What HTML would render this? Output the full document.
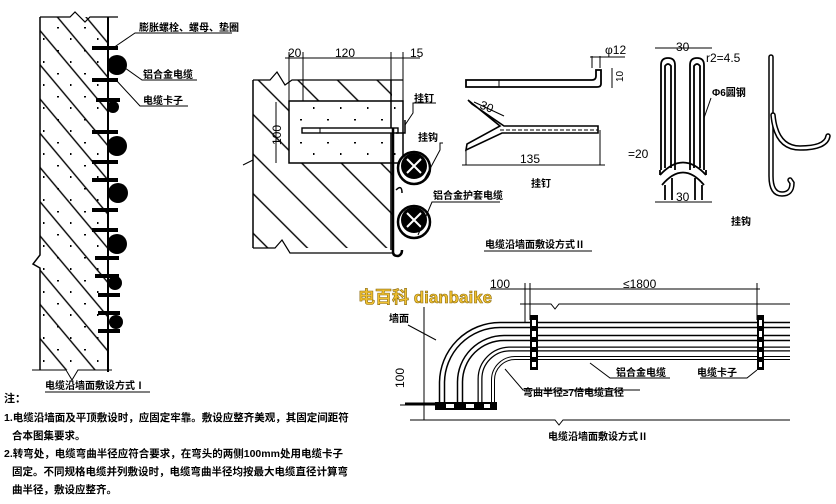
<!DOCTYPE html>
<html><head><meta charset="utf-8"><style>
html,body{margin:0;padding:0;background:#fff;}
svg{display:block;}
text{font-family:"Liberation Sans","Noto Sans CJK SC",sans-serif;fill:#000;}
.cn{font-weight:bold;font-size:10px;}
.d{font-size:12px;}
</style></head><body>
<svg width="836" height="504" viewBox="0 0 836 504" xmlns="http://www.w3.org/2000/svg">
<defs>
<pattern id="h" patternUnits="userSpaceOnUse" width="22" height="22" patternTransform="rotate(-40)">
<line x1="11" y1="0" x2="11" y2="22" stroke="#000" stroke-width="1.4"/>
</pattern>
<pattern id="h2" patternUnits="userSpaceOnUse" width="28" height="28" patternTransform="rotate(-45)">
<line x1="14" y1="0" x2="14" y2="28" stroke="#000" stroke-width="1.4"/>
</pattern>
<pattern id="dots" patternUnits="userSpaceOnUse" width="27" height="23">
<rect x="3" y="4" width="2" height="1.5" fill="#000"/><rect x="16" y="15" width="1.5" height="2" fill="#000"/>
</pattern>
</defs>
<rect width="836" height="504" fill="#fff"/>

<rect x="40" y="17" width="68" height="353" fill="url(#h)"/>
<rect x="40" y="17" width="68" height="353" fill="url(#dots)"/>
<path d="M40,17 V255 L33,264 L40,268 V370" fill="none" stroke="#000" stroke-width="1.5"/>
<line x1="108" y1="17" x2="108" y2="372" stroke="#000" stroke-width="2"/>
<path d="M40,17 H70 L75,12 L85,22 L90,17 H118" fill="none" stroke="#000" stroke-width="1.2"/>
<path d="M32,370 H66 L72,380 L78,370 H112" fill="none" stroke="#000" stroke-width="1"/>
<g fill="#000">
<rect x="92" y="46" width="26" height="4"/><rect x="92" y="78" width="26" height="4"/>
<rect x="96" y="98" width="24" height="4"/><rect x="92" y="130" width="26" height="4"/>
<rect x="92" y="160" width="26" height="4"/><rect x="92" y="178" width="26" height="4"/>
<rect x="92" y="208" width="26" height="4"/><rect x="92" y="228" width="26" height="4"/>
<rect x="95" y="256" width="24" height="4"/><rect x="95" y="274" width="24" height="4"/>
<rect x="98" y="293" width="22" height="4"/><rect x="98" y="311" width="22" height="4"/>
<rect x="98" y="329" width="22" height="4"/>
</g>
<g fill="#000">
<circle cx="117" cy="65" r="10"/><circle cx="113" cy="107" r="6"/><circle cx="117" cy="146" r="10"/>
<circle cx="118" cy="193" r="10"/><circle cx="117" cy="244" r="10"/><circle cx="115" cy="283" r="7"/>
<circle cx="116" cy="322" r="7"/>
</g>
<path d="M113,48 L135,33 H232" fill="none" stroke="#000"/>
<path d="M125,68 L142,80 H197" fill="none" stroke="#000"/>
<path d="M116,80 L140,106 H188" fill="none" stroke="#000"/>
<text class="cn" x="139" y="31">膨胀螺栓、螺母、垫圈</text>
<text class="cn" x="143" y="78">铝合金电缆</text>
<text class="cn" x="143" y="104">电缆卡子</text>
<text class="cn" x="45" y="389">电缆沿墙面敷设方式Ⅰ</text>
<line x1="45" y1="392" x2="150" y2="392" stroke="#000"/>

<text class="cn" x="4" y="402" style="font-size:11px">注：</text>
<text class="cn" x="4" y="421" style="font-size:10.5px">1.电缆沿墙面及平顶敷设时，应固定牢靠。敷设应整齐美观，其固定间距符</text>
<text class="cn" x="12" y="439" style="font-size:10.5px">合本图集要求。</text>
<text class="cn" x="4" y="457" style="font-size:10.5px">2.转弯处，电缆弯曲半径应符合要求，在弯头的两侧100mm处用电缆卡子</text>
<text class="cn" x="12" y="475" style="font-size:10.5px">固定。不同规格电缆并列敷设时，电缆弯曲半径均按最大电缆直径计算弯</text>
<text class="cn" x="12" y="493" style="font-size:10.5px">曲半径，敷设应整齐。</text>

<rect x="253" y="80" width="139" height="22" fill="url(#h2)"/>
<rect x="253" y="163" width="139" height="85" fill="url(#h2)"/>
<rect x="253" y="102" width="36" height="61" fill="url(#h2)"/>
<rect x="289" y="101" width="114" height="62" fill="#fff" stroke="#000" stroke-width="1.5"/>
<rect x="289" y="101" width="114" height="62" fill="url(#dots)"/>
<path d="M253,80 V248" stroke="#000" stroke-width="1.5"/>
<path d="M253,80 H270 L277,72 L285,85 L292,80 H403" fill="none" stroke="#000" stroke-width="1.2"/>
<path d="M243,165 L253,160" stroke="#000"/>
<path d="M253,248 H275 L282,240 L290,253 H392" fill="none" stroke="#000" stroke-width="1.2"/>
<line x1="391" y1="80" x2="391" y2="250" stroke="#000" stroke-width="1.5"/>
<line x1="285" y1="58" x2="420" y2="58" stroke="#000"/>
<line x1="289" y1="52" x2="289" y2="101" stroke="#000"/>
<line x1="303" y1="52" x2="303" y2="101" stroke="#000"/>
<line x1="391" y1="52" x2="391" y2="80" stroke="#000"/>
<line x1="403" y1="52" x2="403" y2="101" stroke="#000"/>
<text class="d" x="288" y="57">20</text><text class="d" x="335" y="57">120</text><text class="d" x="410" y="57">15</text>
<line x1="276" y1="102" x2="276" y2="163" stroke="#000"/>
<text class="d" x="0" y="0" transform="translate(281,145) rotate(-90)">100</text>
<rect x="302" y="128" width="96" height="5" fill="#fff" stroke="#000" stroke-width="1.4"/>
<line x1="320" y1="128" x2="320" y2="133" stroke="#000"/>
<path d="M396,133 H405 V120" fill="none" stroke="#000" stroke-width="1.5"/>
<path d="M393,128 V252 Q393,256 398,256 Q402,255 402,250" fill="none" stroke="#000" stroke-width="2.5"/>
<path d="M396,190 Q402,184 402,193" fill="none" stroke="#000" stroke-width="1.5"/>
<g stroke="#000" fill="#fff">
<circle cx="414" cy="168" r="16" stroke-width="2.5"/><circle cx="414" cy="222" r="16" stroke-width="2.5"/>
</g>
<g fill="#000">
<circle cx="414" cy="166" r="13"/><circle cx="414" cy="220" r="13"/>
</g>
<g stroke="#fff" stroke-width="2">
<path d="M407,159 L421,173 M421,159 L407,173"/><path d="M407,213 L421,227 M421,213 L407,227"/>
</g>
<path d="M405,125 L413,113 V103 H436" fill="none" stroke="#000"/>
<path d="M424,180 L440,150 V143 H443" fill="none" stroke="#000"/>
<path d="M418,235 L432,202 H500" fill="none" stroke="#000"/>
<text class="cn" x="414" y="102">挂钉</text>
<text class="cn" x="418" y="141">挂钩</text>
<text class="cn" x="433" y="199">铝合金护套电缆</text>
<text class="cn" x="485" y="248">电缆沿墙面敷设方式Ⅱ</text>
<line x1="484" y1="251" x2="592" y2="251" stroke="#000"/>

<path d="M466,80 H592 Q596,80 596,76 V70 H601 V84 Q601,87 597,87 H466 Z" fill="#fff" stroke="#000" stroke-width="1.8"/>
<line x1="499" y1="80" x2="499" y2="87" stroke="#000"/>
<line x1="592" y1="56" x2="592" y2="68" stroke="#000"/><line x1="600" y1="56" x2="600" y2="68" stroke="#000"/>
<line x1="590" y1="57" x2="625" y2="57" stroke="#000"/>
<text class="d" x="605" y="54">φ12</text>
<line x1="612" y1="68" x2="612" y2="88" stroke="#000"/>
<text class="d" x="0" y="0" transform="translate(623,82) rotate(-90)" style="font-size:10px">10</text>
<path d="M468,100 L500,126 L467,144 L466,150 L502,133 H598 V126 H504 L472,104 Z" fill="#fff" stroke="#000" stroke-width="1.6"/>
<line x1="500" y1="130" x2="598" y2="130" stroke="#000" stroke-dasharray="4 2"/>
<path d="M466,150 V165 M600,130 V165" stroke="#000"/>
<line x1="462" y1="165" x2="605" y2="165" stroke="#000"/>
<line x1="474" y1="102" x2="504" y2="116" stroke="#000"/>
<text class="d" x="0" y="0" transform="translate(479,108) rotate(22)">30</text>
<text class="d" x="520" y="163">135</text>
<text class="cn" x="531" y="187">挂钉</text>
<g fill="none" stroke="#000" stroke-width="1.8">
<path d="M661,170 V65 Q661,58 668,58 Q675,58 675,65 V170"/>
<path d="M665,168 V66 Q668,62 671,66 V168"/>
<path d="M690,170 V65 Q690,58 697,58 Q704,58 704,65 V170"/>
<path d="M694,168 V66 Q697,62 700,66 V168"/>
<path d="M660,175 Q683,150 706,175"/>
<path d="M662,185 Q683,160 704,185"/>
<path d="M665,185 V200 M672,178 V200 M695,178 V200 M702,185 V200"/>
<path d="M660,170 V175 M706,170 V175"/>
</g>
<line x1="655" y1="48" x2="712" y2="48" stroke="#000"/>
<text class="d" x="676" y="51">30</text>
<text class="d" x="706" y="62">r2=4.5</text>
<text class="cn" x="712" y="96">Φ6圆钢</text>
<path d="M711,98 L704,118" stroke="#000"/>
<text class="d" x="628" y="158">=20</text>
<line x1="655" y1="202" x2="712" y2="202" stroke="#000"/>
<text class="d" x="676" y="201">30</text>
<text class="cn" x="731" y="225">挂钩</text>
<path d="M771,57 V176 Q771,194 782,194 Q792,194 792,183 L790,180" fill="none" stroke="#000" stroke-width="5.5" stroke-linecap="round"/>
<path d="M771,57 V176 Q771,194 782,194 Q792,194 792,183 L790,180" fill="none" stroke="#fff" stroke-width="2.5" stroke-linecap="round"/>
<path d="M773,115 Q776,148 800,148 Q826,148 828,136" fill="none" stroke="#000" stroke-width="5.5" stroke-linecap="round"/>
<path d="M773,115 Q776,148 800,148 Q826,148 828,136" fill="none" stroke="#fff" stroke-width="2.5" stroke-linecap="round"/>

<line x1="490" y1="289" x2="760" y2="289" stroke="#000"/>
<line x1="525" y1="283" x2="525" y2="325" stroke="#000"/>
<line x1="530" y1="283" x2="530" y2="320" stroke="#000"/>
<line x1="757" y1="283" x2="757" y2="320" stroke="#000"/>
<text class="d" x="490" y="288">100</text>
<text class="d" x="623" y="288">≤1800</text>
<path d="M520,304 H551 L555,309 L559,304 H790" fill="none" stroke="#000"/>
<path d="M410,420 H555 L559,425 L563,420 H790" fill="none" stroke="#000"/>
<line x1="424" y1="307" x2="424" y2="420" stroke="#000"/>
<text class="d" x="0" y="0" transform="translate(404,388) rotate(-90)">100</text>
<line x1="400" y1="405" x2="420" y2="405" stroke="#000"/>
<text class="cn" x="389" y="322">墙面</text>
<path d="M408,325 L436,340" stroke="#000"/>
<g fill="none" stroke-linecap="butt">
<path d="M790,325 H500 A58,58 0 0 0 442,383 V410" stroke="#000" stroke-width="6.5"/>
<path d="M790,325 H500 A58,58 0 0 0 442,383 V410" stroke="#fff" stroke-width="3.5"/>
<path d="M790,338 H504 A44,44 0 0 0 460,382 V410" stroke="#000" stroke-width="6.5"/>
<path d="M790,338 H504 A44,44 0 0 0 460,382 V410" stroke="#fff" stroke-width="3.5"/>
<path d="M790,349 H510 A30,30 0 0 0 480,379 V410" stroke="#000" stroke-width="5"/>
<path d="M790,349 H510 A30,30 0 0 0 480,379 V410" stroke="#fff" stroke-width="2.5"/>
<path d="M790,358 H515 A22,22 0 0 0 493,380 V410" stroke="#000" stroke-width="4"/>
<path d="M790,358 H515 A22,22 0 0 0 493,380 V410" stroke="#fff" stroke-width="2"/>
</g>
<line x1="405" y1="404" x2="495" y2="404" stroke="#000" stroke-width="3"/>
<g fill="#000">
<rect x="530" y="315" width="8" height="55"/><rect x="757" y="315" width="7" height="55"/>
<rect x="435" y="402" width="62" height="8"/>
</g>
<g fill="#fff">
<rect x="532" y="320" width="4" height="6"/><rect x="532" y="331" width="4" height="6"/><rect x="532" y="342" width="4" height="5"/><rect x="532" y="352" width="4" height="5"/><rect x="532" y="362" width="4" height="5"/>
<rect x="759" y="320" width="3" height="6"/><rect x="759" y="331" width="3" height="6"/><rect x="759" y="342" width="3" height="5"/><rect x="759" y="352" width="3" height="5"/><rect x="759" y="362" width="3" height="5"/>
<rect x="446" y="404" width="8" height="4"/><rect x="466" y="404" width="8" height="4"/><rect x="484" y="404" width="6" height="4"/>
</g>
<path d="M505,369 L523,390 H640" fill="none" stroke="#000"/>
<path d="M590,363 L610,378 H670" fill="none" stroke="#000"/>
<path d="M757,370 L747,378 H700" fill="none" stroke="#000"/>
<text class="cn" x="523" y="396">弯曲半径≥7倍电缆直径</text>
<text class="cn" x="616" y="376">铝合金电缆</text>
<text class="cn" x="697" y="376">电缆卡子</text>
<text class="cn" x="548" y="440">电缆沿墙面敷设方式Ⅱ</text>

<text x="358" y="303" style="font-family:'Liberation Sans','Noto Sans CJK SC',sans-serif;font-size:17px;font-weight:bold;fill:#f2c230;stroke:#8a6a10;stroke-width:0.6">电百科 dianbaike</text>
</svg>
</body></html>
